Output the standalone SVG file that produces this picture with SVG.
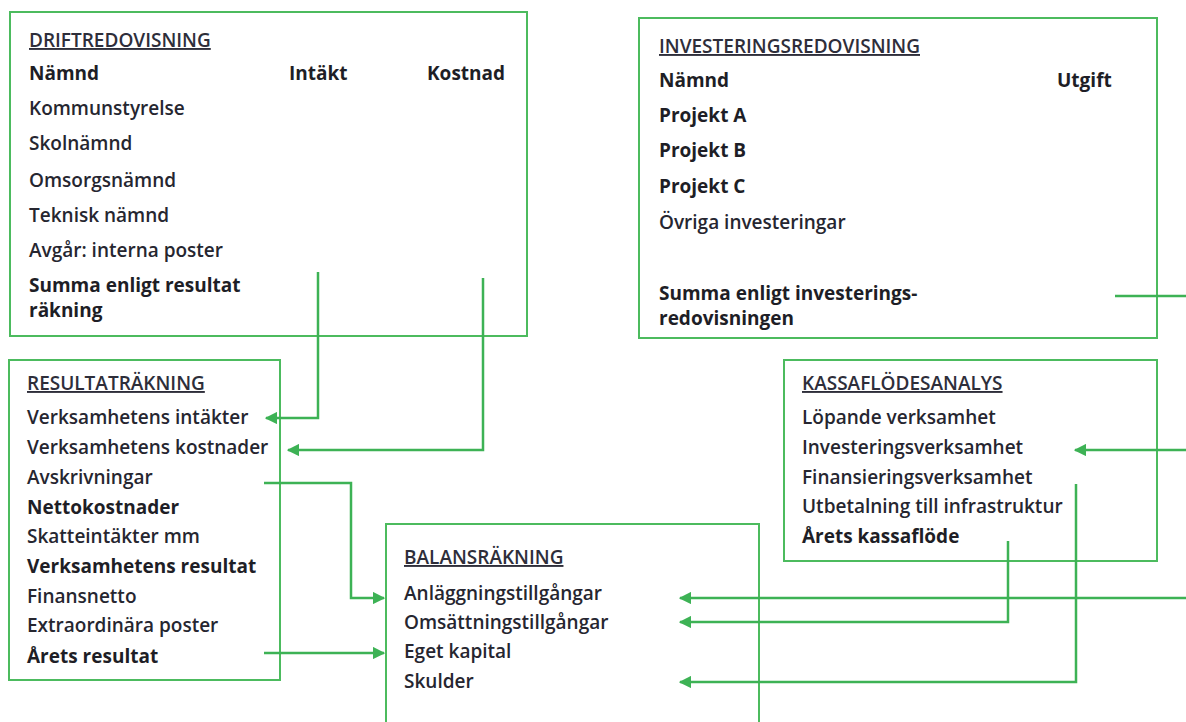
<svg xmlns="http://www.w3.org/2000/svg" width="1186" height="722" viewBox="0 0 1186 722">
<defs>
<style>
.box{fill:#fff;stroke:#4cbb5e;stroke-width:2}
.con{fill:none;stroke:#3db255;stroke-width:2.5}
text{font-family:"Open Sans","Liberation Sans",sans-serif;font-size:19px;font-weight:600;fill:#262630}
.t{font-size:19px;font-weight:600;text-decoration:underline;fill:#2e2e3a}
.b{font-weight:bold;fill:#1e1e26}
</style>
<marker id="ah" viewBox="0 0 10 10" refX="9" refY="5" markerWidth="5" markerHeight="5" orient="auto-start-reverse">
<path d="M0,0 L10,5 L0,10 z" fill="#3db255"/>
</marker>
</defs>
<g id="driftredovisning">
<rect class="box" x="10" y="12" width="517" height="324"/>
<text class="t" x="29" y="47">DRIFTREDOVISNING</text>
<text class="b" x="29" y="80">Nämnd</text>
<text class="b" x="289" y="80">Intäkt</text>
<text class="b" x="427" y="80">Kostnad</text>
<text x="29" y="115">Kommunstyrelse</text>
<text x="29" y="150">Skolnämnd</text>
<text x="29" y="187">Omsorgsnämnd</text>
<text x="29" y="222">Teknisk nämnd</text>
<text x="29" y="257">Avgår: interna poster</text>
<text class="b" x="29" y="292">Summa enligt resultat</text>
<text class="b" x="29" y="317">räkning</text>
</g>
<g id="investeringsredovisning">
<rect class="box" x="639" y="18" width="518" height="320"/>
<text class="t" x="659" y="53">INVESTERINGSREDOVISNING</text>
<text class="b" x="659" y="87">Nämnd</text>
<text class="b" x="1057" y="87">Utgift</text>
<text class="b" x="659" y="122">Projekt A</text>
<text class="b" x="659" y="157">Projekt B</text>
<text class="b" x="659" y="193">Projekt C</text>
<text x="659" y="229">Övriga investeringar</text>
<text class="b" x="659" y="300">Summa enligt investerings-</text>
<text class="b" x="659" y="325">redovisningen</text>
</g>
<g id="resultatrakning">
<rect class="box" x="9" y="360" width="271" height="320"/>
<text class="t" x="27" y="390">RESULTATRÄKNING</text>
<text x="27" y="424">Verksamhetens intäkter</text>
<text x="27" y="454">Verksamhetens kostnader</text>
<text x="27" y="484">Avskrivningar</text>
<text class="b" x="27" y="514">Nettokostnader</text>
<text x="27" y="543">Skatteintäkter mm</text>
<text class="b" x="27" y="573">Verksamhetens resultat</text>
<text x="27" y="603">Finansnetto</text>
<text x="27" y="632">Extraordinära poster</text>
<text class="b" x="27" y="663">Årets resultat</text>
</g>
<g id="balansrakning">
<path class="box" d="M386,724 V524 H759 V724"/>
<text class="t" x="404" y="564">BALANSRÄKNING</text>
<text x="404" y="600">Anläggningstillgångar</text>
<text x="404" y="629">Omsättningstillgångar</text>
<text x="404" y="658">Eget kapital</text>
<text x="404" y="688">Skulder</text>
</g>
<g id="kassaflodesanalys">
<rect class="box" x="784" y="360" width="373" height="201"/>
<text class="t" x="802" y="390">KASSAFLÖDESANALYS</text>
<text x="802" y="424">Löpande verksamhet</text>
<text x="802" y="454">Investeringsverksamhet</text>
<text x="802" y="484">Finansieringsverksamhet</text>
<text x="802" y="513">Utbetalning till infrastruktur</text>
<text class="b" x="802" y="543">Årets kassaflöde</text>
</g>
<g id="connectors">
<path class="con" d="M318,272 V418 H266" marker-end="url(#ah)"/>
<path class="con" d="M483,278 V450 H288" marker-end="url(#ah)"/>
<path class="con" d="M1115,296 H1186"/>
<path class="con" d="M1186,450 H1075" marker-end="url(#ah)"/>
<path class="con" d="M264,483 H351 V598 H384" marker-end="url(#ah)"/>
<path class="con" d="M264,653 H384" marker-end="url(#ah)"/>
<path class="con" d="M1186,598 H680" marker-end="url(#ah)"/>
<path class="con" d="M1008,541 V622 H680" marker-end="url(#ah)"/>
<path class="con" d="M1076,484 V682 H680" marker-end="url(#ah)"/>
</g>
</svg>
